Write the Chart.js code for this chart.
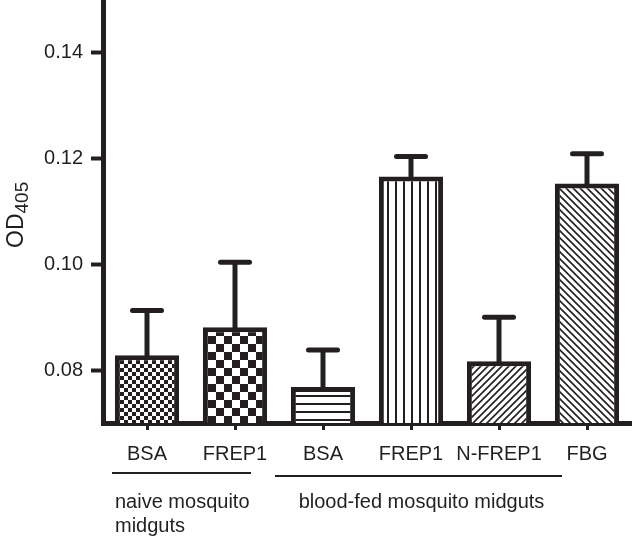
<!DOCTYPE html>
<html>
<head>
<meta charset="utf-8">
<script src="https://cdn.jsdelivr.net/npm/chart.js@4.4.1/dist/chart.umd.min.js"></script>
<style>
  html, body { margin: 0; padding: 0; background: #fff; }
  #grafico { display: block; }
</style>
</head>
<body>
<canvas id="grafico" width="633" height="536"></canvas>
<script>
// =========================================================
// DATOS
// =========================================================
const categorias  = ['BSA', 'FREP1', 'BSA', 'FREP1', 'N-FREP1', 'FBG'];
const mediaOD     = [0.0828, 0.0881, 0.0768, 0.1166, 0.0817, 0.1153];
const errorOD     = [0.0085, 0.0123, 0.0070, 0.0038, 0.0083, 0.0056];
const ticksY      = [0.08, 0.10, 0.12, 0.14];
const gruposTexto = [['naive mosquito', 'midguts'], ['blood-fed mosquito midguts']];
const gruposRango = [[0, 1], [2, 5]];

const INK = '#231f20';
const FUENTE = '"Liberation Sans", Arial, sans-serif';

// =========================================================
// TRAMAS DE RELLENO
// =========================================================
function trama(tipo) {
    const c = document.createElement('canvas');
    const g = c.getContext('2d');
    let s = 8;
    if (tipo === 'cuadrosGrandes') s = 16;
    if (tipo === 'diag' || tipo === 'antidiag') s = 7;
    c.width = s; c.height = s;
    g.fillStyle = '#fff';
    g.fillRect(0, 0, s, s);
    g.fillStyle = INK;
    g.strokeStyle = INK;
    if (tipo === 'cuadrosFinos' || tipo === 'cuadrosGrandes') {
        const h = s / 2;
        g.fillRect(0, 0, h, h);
        g.fillRect(h, h, h, h);
    } else if (tipo === 'horizontal') {
        g.fillRect(0, 3, s, 2);
    } else if (tipo === 'vertical') {
        g.fillRect(3, 0, 2, s);
    } else if (tipo === 'diag') {
        g.lineWidth = 1.6;
        g.beginPath();
        g.moveTo(-1, s + 1); g.lineTo(s + 1, -1);
        g.moveTo(-1, 1);     g.lineTo(1, -1);
        g.moveTo(s - 1, s + 1); g.lineTo(s + 1, s - 1);
        g.stroke();
    } else if (tipo === 'antidiag') {
        g.lineWidth = 1.6;
        g.beginPath();
        g.moveTo(-1, -1); g.lineTo(s + 1, s + 1);
        g.moveTo(s - 1, -1); g.lineTo(s + 1, 1);
        g.moveTo(-1, s - 1); g.lineTo(1, s + 1);
        g.stroke();
    }
    return g.createPattern(c, 'repeat');
}

const tramas = ['cuadrosFinos', 'cuadrosGrandes', 'horizontal', 'vertical', 'diag', 'antidiag'].map(trama);

// =========================================================
// PLUGINS
// =========================================================
const barrasError = {
    id: 'barrasError',
    afterDatasetsDraw(chart) {
        const { ctx, scales: { y } } = chart;
        const meta = chart.getDatasetMeta(0);
        ctx.save();
        ctx.strokeStyle = INK;
        ctx.lineWidth = 5;
        meta.data.forEach((bar, i) => {
            const top = y.getPixelForValue(mediaOD[i]);
            const e = y.getPixelForValue(mediaOD[i] + errorOD[i]);
            ctx.lineCap = 'butt';
            ctx.beginPath();
            ctx.moveTo(bar.x, top + 2);
            ctx.lineTo(bar.x, e);
            ctx.stroke();
            ctx.lineCap = 'round';
            ctx.beginPath();
            ctx.moveTo(bar.x - 14.5, e);
            ctx.lineTo(bar.x + 14.5, e);
            ctx.stroke();
        });
        ctx.restore();
    }
};

const etiquetasGrupo = {
    id: 'etiquetasGrupo',
    afterDraw(chart) {
        const { ctx, scales: { x } } = chart;
        const paso = x.getPixelForValue(1) - x.getPixelForValue(0);
        ctx.save();
        ctx.strokeStyle = INK;
        ctx.fillStyle = INK;
        ctx.lineWidth = 2;
        ctx.font = '20px ' + FUENTE;
        ctx.textBaseline = 'alphabetic';

        // grupo 1: naive
        let a = x.getPixelForValue(gruposRango[0][0]) - paso / 2 + 9;
        let b = x.getPixelForValue(gruposRango[0][1]) + paso / 2 - 28;
        ctx.beginPath(); ctx.moveTo(a, 473); ctx.lineTo(b, 473); ctx.stroke();
        ctx.textAlign = 'left';
        ctx.fillText(gruposTexto[0][0], a + 3, 508);
        ctx.fillText(gruposTexto[0][1], a + 3, 532);

        // grupo 2: blood-fed
        a = x.getPixelForValue(gruposRango[1][0]) - paso / 2 - 4;
        b = x.getPixelForValue(gruposRango[1][1]) + paso / 2 - 69;
        ctx.beginPath(); ctx.moveTo(a, 476); ctx.lineTo(b, 476); ctx.stroke();
        ctx.textAlign = 'center';
        ctx.fillText(gruposTexto[1][0], (a + b) / 2 + 3, 508);

        // titulo eje Y: OD con subindice 405
        ctx.translate(23, 248);
        ctx.rotate(-Math.PI / 2);
        ctx.textAlign = 'left';
        ctx.font = '23px ' + FUENTE;
        ctx.fillText('OD', 0, 0);
        const w = ctx.measureText('OD').width;
        ctx.font = '19px ' + FUENTE;
        ctx.fillText('405', w, 5);
        ctx.restore();
    }
};

// =========================================================
// GRAFICO
// =========================================================
new Chart(document.getElementById('grafico'), {
    type: 'bar',
    data: {
        labels: categorias,
        datasets: [{
            data: mediaOD,
            backgroundColor: tramas,
            borderColor: INK,
            borderWidth: 5,
            borderSkipped: false,
            barPercentage: 0.73,
            categoryPercentage: 1
        }]
    },
    options: {
        responsive: false,
        animation: false,
        devicePixelRatio: 1,
        layout: { padding: { top: 0, right: 2, bottom: 0, left: 0 } },
        plugins: { legend: { display: false }, tooltip: { enabled: false } },
        scales: {
            x: {
                grid: { display: true, offset: false, drawOnChartArea: false, drawTicks: true, tickLength: 7, tickWidth: 3, tickColor: INK },
                border: { display: true, width: 5, color: INK },
                ticks: { color: INK, padding: 12, autoSkip: false, maxRotation: 0, font: { family: FUENTE, size: 20 } },
                afterFit(s) { s.height = 113; s.paddingLeft = 0; s.paddingRight = 0; }
            },
            y: {
                min: 0.07,
                max: 0.15,
                afterBuildTicks(s) { s.ticks = ticksY.map(v => ({ value: v })); },
                grid: { display: true, drawOnChartArea: false, drawTicks: true, tickLength: 12, tickWidth: 4, tickColor: INK },
                border: { display: true, width: 5, color: INK },
                ticks: { color: INK, padding: 8, callback: v => v.toFixed(2), font: { family: FUENTE, size: 20 } },
                afterFit(s) { s.width = 103; s.paddingTop = 0; s.paddingBottom = 0; }
            }
        }
    },
    plugins: [barrasError, etiquetasGrupo]
});
</script>
</body>
</html>
